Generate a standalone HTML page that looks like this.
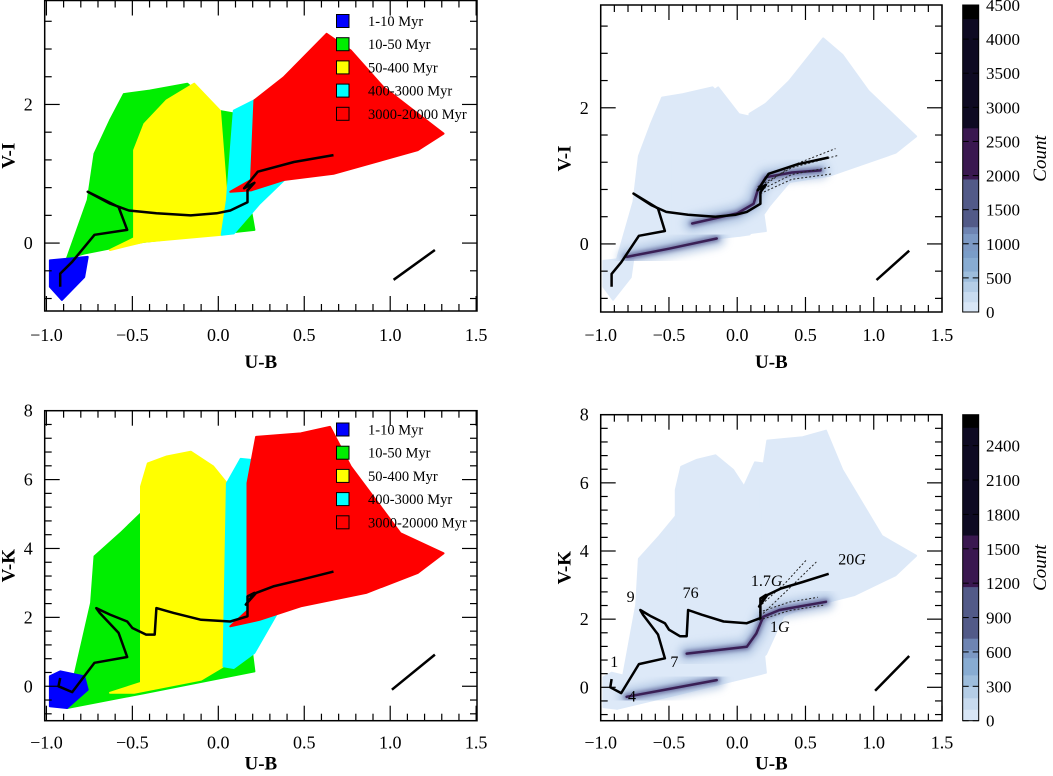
<!DOCTYPE html>
<html><head><meta charset="utf-8">
<style>
html,body{margin:0;padding:0;background:#fff;}
svg{display:block;font-family:"Liberation Serif",serif;}
</style></head>
<body>
<svg id="fig" width="1053" height="776" viewBox="0 0 1053 776" xmlns="http://www.w3.org/2000/svg"><defs id="defs"><filter id="blur2" x="-20%" y="-20%" width="140%" height="140%"><feGaussianBlur stdDeviation="2"/></filter><filter id="blur4" x="-20%" y="-20%" width="140%" height="140%"><feGaussianBlur stdDeviation="4"/></filter></defs></svg>
<script>
// ---------- data (colour-colour values) ----------
const ageLabels = ["1-10 Myr","10-50 Myr","50-400 Myr","400-3000 Myr","3000-20000 Myr"];
const ageColors = ["#0000ff","#00ee00","#ffff00","#00ffff","#ff0000"];
const viBlue  = [[-0.98,-0.25],[-0.76,-0.2],[-0.78,-0.49],[-0.91,-0.82],[-0.98,-0.63]];
const viGreen = [[-0.88,-0.22],[-0.76,0.62],[-0.72,1.29],[-0.63,1.77],[-0.55,2.15],[-0.40,2.20],[-0.18,2.30],[0.0,1.91],[0.09,1.87],[0.21,0.19],[-0.43,0.02],[-0.78,-0.15]];
const viYellow= [[-0.63,-0.10],[-0.49,0.07],[-0.49,1.34],[-0.43,1.72],[-0.30,2.06],[-0.14,2.30],[0.01,1.91],[0.05,0.62],[0.02,0.12],[-0.43,0.02]];
const viCyan  = [[0.02,0.12],[0.05,0.62],[0.09,1.91],[0.21,2.06],[0.21,0.81],[0.40,0.95],[0.24,0.57],[0.09,0.14]];
const viRed   = [[0.07,0.74],[0.19,0.91],[0.21,2.06],[0.38,2.39],[0.63,3.02],[0.77,2.78],[0.96,2.25],[1.31,1.58],[1.16,1.34],[0.67,1.00],[0.38,0.91],[0.19,0.76]];
const viTrack = [[-0.92,-0.63],[-0.92,-0.44],[-0.85,-0.27],[-0.72,0.12],[-0.53,0.19],[-0.58,0.52],[-0.76,0.74],[-0.63,0.57],[-0.52,0.47],[-0.36,0.43],[-0.16,0.40],[-0.01,0.43],[0.07,0.47],[0.17,0.59],[0.17,0.76],[0.21,0.87],[0.15,0.79],[0.23,1.03],[0.44,1.17],[0.67,1.27]];
const viArrow = [[1.02,-0.53],[1.26,-0.10]];
const viStreaks = [[[-0.81,-0.19],[-0.5,-0.07],[-0.15,0.08]],[[-0.33,0.30],[0.0,0.45],[0.12,0.59],[0.15,0.79],[0.21,0.98],[0.40,1.05],[0.61,1.08]]];
const viDotted = [[[0.15,0.79],[0.40,1.15],[0.72,1.40]],[[0.15,0.84],[0.40,1.12],[0.74,1.30]],[[0.17,0.79],[0.40,1.02],[0.69,1.13]],[[0.17,0.74],[0.40,0.95],[0.70,1.03]]];

const vkBlue  = [[-0.98,0.29],[-0.92,0.43],[-0.78,0.29],[-0.76,-0.10],[-0.88,-0.63],[-0.98,-0.58]];
const vkGreen = [[-0.88,-0.63],[-0.74,2.42],[-0.72,3.77],[-0.57,4.44],[-0.45,5.02],[-0.10,5.4],[0.09,5.2],[0.21,0.43],[-0.43,-0.2]];
const vkYellow= [[-0.63,-0.19],[-0.45,0.1],[-0.45,5.8],[-0.41,6.47],[-0.30,6.67],[-0.16,6.81],[-0.03,6.38],[0.05,5.89],[0.03,0.58],[-0.10,0.19],[-0.49,-0.19]];
const vkCyan  = [[0.03,0.58],[0.05,5.89],[0.13,6.6],[0.21,6.56],[0.17,2.9],[0.34,2.1],[0.21,0.97],[0.09,0.53]];
const vkRed   = [[0.07,1.74],[0.17,2.2],[0.17,5.9],[0.22,7.24],[0.48,7.34],[0.65,7.53],[0.77,6.38],[1.06,4.44],[1.31,3.86],[1.16,3.29],[0.86,2.71],[0.48,2.32],[0.24,1.93]];
const vkTrack = [[-0.92,0.24],[-0.93,0.0],[-0.85,-0.17],[-0.72,0.68],[-0.53,0.85],[-0.58,1.55],[-0.69,2.13],[-0.71,2.27],[-0.63,2.08],[-0.53,1.88],[-0.50,1.69],[-0.42,1.50],[-0.37,1.50],[-0.36,2.27],[-0.26,2.13],[-0.10,1.93],[0.07,1.88],[0.17,2.03],[0.17,2.61],[0.21,2.71],[0.16,2.37],[0.22,2.71],[0.32,2.90],[0.48,3.09],[0.67,3.33]];
const vkArrow = [[1.01,-0.10],[1.26,0.92]];
const vkStreaks = [[[-0.81,-0.28],[-0.5,-0.05],[-0.15,0.21]],[[-0.37,0.99],[0.07,1.19],[0.14,1.58],[0.19,2.07],[0.31,2.27],[0.65,2.51]]];
const vkDotted = [[[0.16,2.36],[0.35,3.05],[0.51,3.75]],[[0.19,2.17],[0.38,2.9],[0.58,3.68]],[[0.16,2.20],[0.38,2.5],[0.59,2.64]],[[0.16,1.97],[0.38,2.25],[0.63,2.41]]];
const vkAgeLabels = ["1","7","4","9","76","1.7","20","1"];
const vkAgeSuffix = ["","","","","","G","G","G"];
const vkAgePos = [[-0.93,0.6],[-0.49,0.6],[-0.80,-0.42],[-0.81,2.5],[-0.40,2.62],[0.10,2.98],[0.74,3.6],[0.24,1.62]];

const topTicks = [4500,4000,3500,3000,2500,2000,1500,1000,500,0];
const botTicks = [2400,2100,1800,1500,1200,900,600,300,0];

// ---------- helpers ----------
const NS="http://www.w3.org/2000/svg";
const svg=document.getElementById('fig');
const defs=document.getElementById('defs');
function mk(tag,attrs,parent){const e=document.createElementNS(NS,tag);for(const k in attrs)e.setAttribute(k,attrs[k]);(parent||svg).appendChild(e);return e;}
function panel(p){p.sx=v=>p.x0+(v-p.xmin)/(p.xmax-p.xmin)*(p.x1-p.x0);p.sy=v=>p.y1-(v-p.ymin)/(p.ymax-p.ymin)*(p.y1-p.y0);return p;}
const P=[
 panel({x0:44.7,x1:477,y0:0.5,y1:311,xmin:-1.01,xmax:1.505,ymin:-0.98,ymax:3.5,ylab:"V-I",yt:[0,2],tl:30,xt:57}),
 panel({x0:600.7,x1:942,y0:5,y1:312,xmin:-1.0,xmax:1.5,ymin:-1.0,ymax:3.51,ylab:"V-I",yt:[0,2],tl:29,xt:56}),
 panel({x0:44.7,x1:477,y0:410.7,y1:720.7,xmin:-1.01,xmax:1.505,ymin:-1.0,ymax:8,ylab:"V-K",yt:[0,2,4,6,8],tl:28,xt:49}),
 panel({x0:600.7,x1:942,y0:414.7,y1:720.7,xmin:-1.0,xmax:1.5,ymin:-0.98,ymax:8,ylab:"V-K",yt:[0,2,4,6,8],tl:28,xt:49})
];
function pts(p,arr){return arr.map(d=>p.sx(d[0]).toFixed(1)+","+p.sy(d[1]).toFixed(1)).join(" ");}
function clip(p,id){const c=mk('clipPath',{id:id},defs);mk('rect',{x:p.x0,y:p.y0,width:p.x1-p.x0,height:p.y1-p.y0},c);}
function line(p,g,arr,attrs){return mk('polyline',Object.assign({points:pts(p,arr),fill:'none'},attrs),g);}

function axes(p,g){
  mk('rect',{x:p.x0,y:p.y0,width:p.x1-p.x0,height:p.y1-p.y0,fill:'none',stroke:'#000','stroke-width':1.5},g);
  for(let i=-10;i<=15;i++){const v=i/10;const x=p.sx(v);if(x<p.x0-0.5||x>p.x1+0.5)continue;const L=(i%5===0)?15:7;
    mk('line',{x1:x,y1:p.y1,x2:x,y2:p.y1-L,stroke:'#000','stroke-width':1.2},g);
    mk('line',{x1:x,y1:p.y0,x2:x,y2:p.y0+L,stroke:'#000','stroke-width':1.2},g);
    if(i%5===0){const t=mk('text',{x:x,y:p.y1+p.tl,'text-anchor':'middle','font-size':18},g);t.textContent=(v<0?"\u2212":"")+Math.abs(v).toFixed(1);
      
      }}
  for(let k=-2;k<=25;k++){const v=k*0.4;if(v<p.ymin||v>p.ymax)continue;const y=p.sy(v);if(y<p.y0+1||y>p.y1-1)continue;const maj=p.yt.some(t=>Math.abs(t-v)<0.01);const L=maj?15:7;
    mk('line',{x1:p.x0,y1:y,x2:p.x0+L,y2:y,stroke:'#000','stroke-width':1.2},g);
    mk('line',{x1:p.x1,y1:y,x2:p.x1-L,y2:y,stroke:'#000','stroke-width':1.2},g);}
  p.yt.forEach(v=>{const y=p.sy(v);const t=mk('text',{x:p.x0-12,y:y+6,'text-anchor':'end','font-size':18},g);t.textContent=String(v);
    
    });
  const xl=mk('text',{x:(p.x0+p.x1)/2,y:p.y1+p.xt,'text-anchor':'middle','font-size':19,'font-weight':'bold'},g);xl.textContent="U-B";
  
  
  const cy=(p.y0+p.y1)/2; const lx=p.x0-30;
  const yl=mk('text',{x:lx,y:cy,'text-anchor':'middle','font-size':19,'font-weight':'bold',transform:`rotate(-90 ${lx} ${cy})`},g);yl.textContent=p.ylab;
  
  
}

function scatterPanel(p,polys,track,arrow,legendY,id){
  const g=mk('g',{});
  
  
  clip(p,'c'+id);const inner=mk('g',{'clip-path':`url(#c${id})`},g);
  [1,2,3,4,0].forEach(i=>{const e=mk('polygon',{points:pts(p,polys[i]),fill:ageColors[i],stroke:ageColors[i],'stroke-width':2,'stroke-linejoin':'round'},inner);
    
    });
  const tr=line(p,inner,track,{stroke:'#000','stroke-width':2.5,'stroke-linejoin':'round'});
  
  
  const ar=line(p,inner,arrow,{stroke:'#000','stroke-width':2.5});
  
  
  axes(p,g);
  ageLabels.forEach((lab,i)=>{const y=legendY+i*23.2;
    const sq=mk('rect',{x:336.5,y:y-6.5,width:12.5,height:13,fill:ageColors[i],stroke:'#000','stroke-width':1},g);
    sq.style.fill=ageColors[i];
    
    
    const t=mk('text',{x:368,y:y+5,'font-size':14.5},g);t.textContent=lab;
    
    });
}
function densityPanel(p,polys,track,arrow,streaks,dotted,id,cbMax,cbTicks,cbStops){
  const g=mk('g',{});
  
  
  clip(p,'c'+id);const inner=mk('g',{'clip-path':`url(#c${id})`},g);
  polys.forEach(poly=>{const e=mk('polygon',{points:pts(p,poly),fill:'#dde9f8',stroke:'#dde9f8','stroke-width':2,'stroke-linejoin':'round'},inner);
    
    });
  streaks.forEach(s=>{
    line(p,inner,s,{stroke:'#a9c0df','stroke-width':18,'stroke-linecap':'round','stroke-linejoin':'round',filter:'url(#blur4)',opacity:0.7});
    line(p,inner,s,{stroke:'#6a6fa0','stroke-width':6,'stroke-linecap':'round','stroke-linejoin':'round',filter:'url(#blur2)'});
    const e=line(p,inner,s,{stroke:'#3a1f55','stroke-width':2.5,'stroke-linecap':'round','stroke-linejoin':'round'});
    
    });
  dotted.forEach(d=>{const e=line(p,inner,d,{stroke:'#222','stroke-width':1,'stroke-dasharray':'2,2'});
    
    });
  const tr=line(p,inner,track,{stroke:'#000','stroke-width':2.5,'stroke-linejoin':'round'});
  
  
  const ar=line(p,inner,arrow,{stroke:'#000','stroke-width':2.5});
  
  
  axes(p,g);
  const cx=962.7,cw=16,cy0=p.y0,cy1=p.y1;
  const cs=v=>cy1-v/cbMax*(cy1-cy0);
  const cb=mk('g',{},g);
  
  
  cbStops.forEach(s=>{mk('rect',{x:cx,y:cs(s[1]),width:cw,height:cs(s[0])-cs(s[1])+0.5,fill:s[2]},cb);});
  mk('rect',{x:cx,y:cy0,width:cw,height:cy1-cy0,fill:'none',stroke:'#000','stroke-width':1},cb);
  cbTicks.forEach(v=>{const y=cs(v);
    mk('line',{x1:cx,y1:y,x2:cx+6,y2:y,stroke:'#000','stroke-width':1},cb);
    mk('line',{x1:cx+cw,y1:y,x2:cx+cw-6,y2:y,stroke:'#000','stroke-width':1},cb);
    const t=mk('text',{x:986,y:y+6,'font-size':17},cb);t.textContent=String(v);
    
    });
  const my=(cy0+cy1)/2;
  const ct=mk('text',{x:1046,y:my,'text-anchor':'middle','font-size':19,'font-style':'italic',transform:`rotate(-90 1046 ${my})`},cb);ct.textContent="Count";
  
  
  return g;
}

scatterPanel(P[0],[viBlue,viGreen,viYellow,viCyan,viRed],viTrack,viArrow,21,'panel-vi-ages');
densityPanel(P[1],[viBlue,viGreen,viYellow,viCyan,viRed],viTrack,viArrow,viStreaks,viDotted,'panel-vi-density',4500,topTicks,
 [[0,150,'#d8e6f6'],[150,300,'#c8dbef'],[300,450,'#b4cde6'],[450,600,'#9dbddc'],[600,800,'#88acd2'],[800,900,'#7a9dc8'],[900,1150,'#7c99c4'],[1150,1250,'#6e84b2'],[1250,1950,'#525a88'],[1950,2700,'#3a1850'],[2700,4300,'#0e0a22'],[4300,4500,'#000']]);
scatterPanel(P[2],[vkBlue,vkGreen,vkYellow,vkCyan,vkRed],vkTrack,vkArrow,429.5,'panel-vk-ages');
const g4=densityPanel(P[3],[vkBlue,vkGreen,vkYellow,vkCyan,vkRed],vkTrack,vkArrow,vkStreaks,vkDotted,'panel-vk-density',2670,botTicks,
 [[0,100,'#d8e6f6'],[100,200,'#c8dbef'],[200,300,'#b4cde6'],[300,400,'#9dbddc'],[400,550,'#88acd2'],[550,620,'#7c99c4'],[620,720,'#6e84b2'],[720,1170,'#525a88'],[1170,1620,'#3a1850'],[1620,2560,'#0e0a22'],[2560,2670,'#000']]);
vkAgeLabels.forEach((lab,i)=>{const p=P[3];
  const t=mk('text',{x:p.sx(vkAgePos[i][0]),y:p.sy(vkAgePos[i][1]),'font-size':16},g4);
  t.textContent=lab;
  if(vkAgeSuffix[i]){const s=mk('tspan',{'font-style':'italic'},t);s.textContent=vkAgeSuffix[i];}
  
  });
</script>
</body></html>
